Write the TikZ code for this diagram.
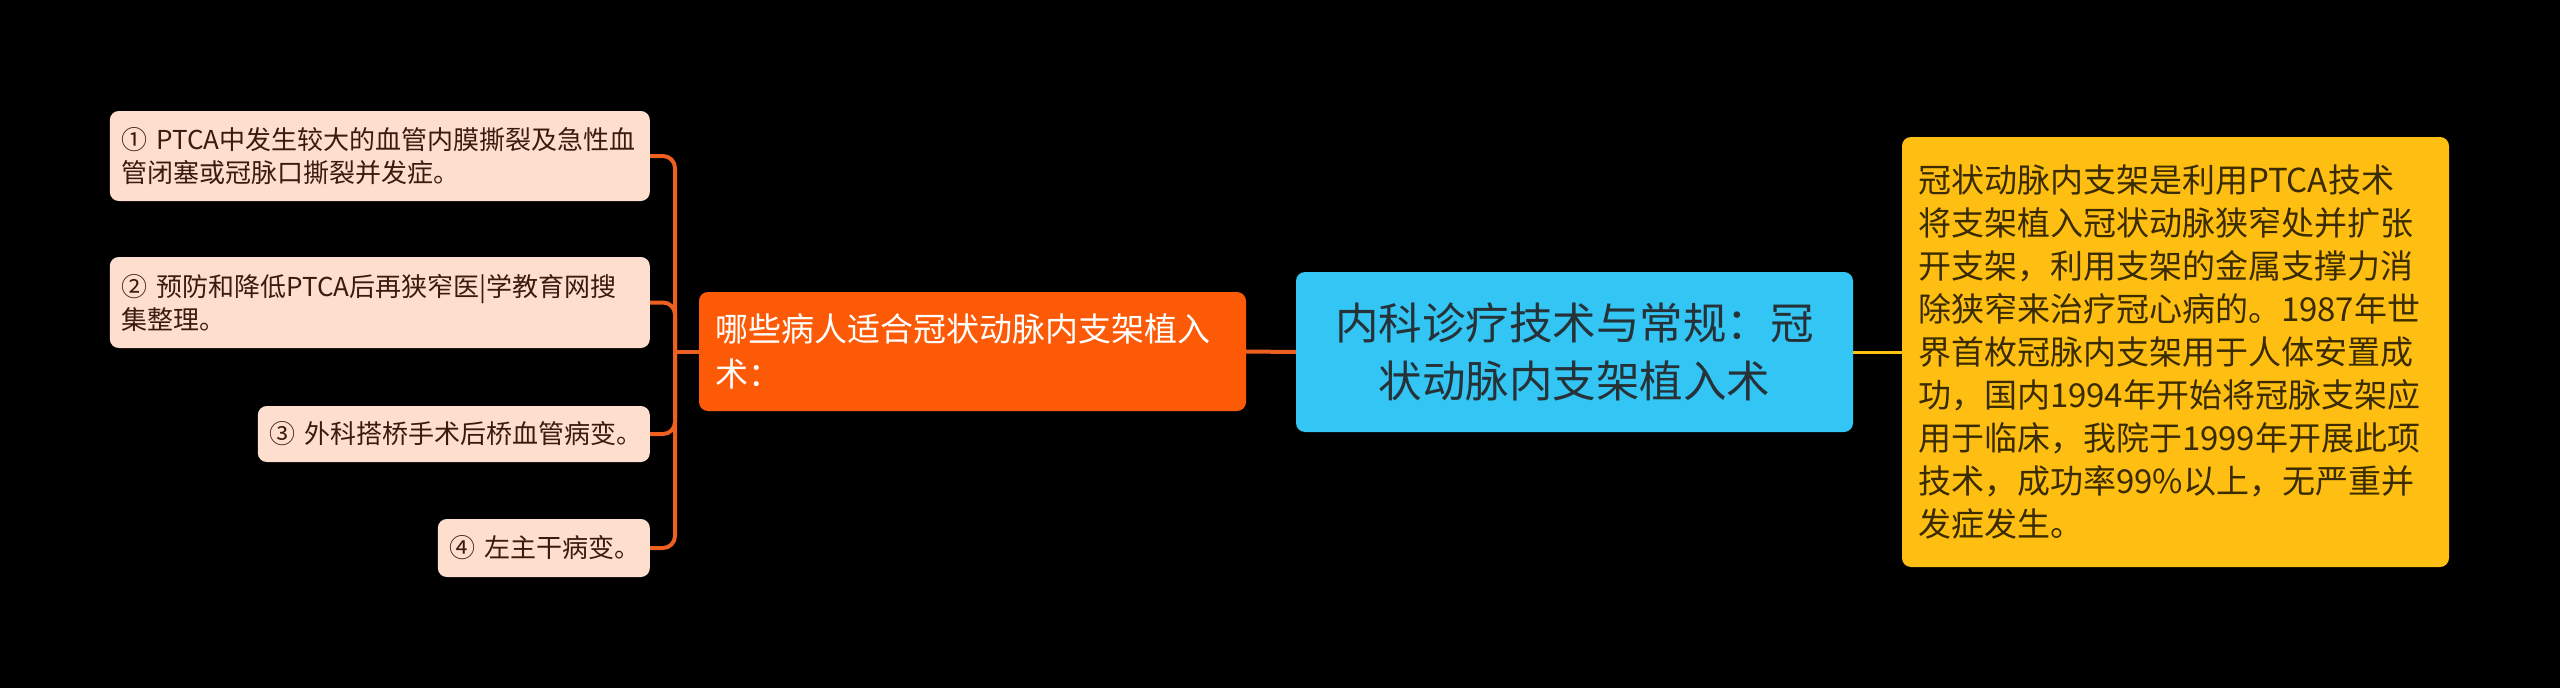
\documentclass[tikz,border=0pt]{standalone}
\usepackage{fontspec}
\setmainfont{Noto Sans CJK SC}
\definecolor{leaffill}{HTML}{FEDFCF}
\definecolor{leaftext}{HTML}{3A1C0E}
\definecolor{branch}{HTML}{EE6020}
\definecolor{askfill}{HTML}{FC5A06}
\definecolor{mainfill}{HTML}{33C5F3}
\definecolor{maintext}{HTML}{263238}
\definecolor{infofill}{HTML}{FFBF12}
\definecolor{infotext}{HTML}{3A2C00}
\definecolor{goldline}{HTML}{FFC20E}

\begin{document}
\begin{tikzpicture}[x=1pt,y=-1pt,
    leaf/.style={fill=leaffill, text=leaftext, rounded corners=9pt, anchor=east,
        inner xsep=12pt, inner ysep=0pt, align=left, font=\fontsize{26}{33}\selectfont},
    ask/.style={fill=askfill, text=white, rounded corners=9pt,
        inner xsep=16pt, inner ysep=0pt, align=left, font=\fontsize{33}{45}\selectfont},
    mainbox/.style={fill=mainfill, text=maintext, rounded corners=9pt,
        inner sep=0pt, align=center, font=\fontsize{43.5}{58}\selectfont},
    info/.style={fill=infofill, text=infotext, rounded corners=9pt,
        inner xsep=16pt, inner ysep=0pt, align=left, font=\fontsize{33}{43}\selectfont},
    link/.style={draw=branch, line width=4pt, rounded corners=12pt},
    goldlink/.style={draw=goldline, line width=3pt}]

    \fill[black] (0,0) rectangle (2560,688);

    \node[leaf, text width=516pt, minimum height=90pt] (p1) at (650,156) {①~PTCA中发生较大的血管内膜撕裂及急性血\\管闭塞或冠脉口撕裂并发症。};
    \node[leaf, text width=516pt, minimum height=91pt] (p2) at (650,302.5) {②~预防和降低PTCA后再狭窄医|学教育网搜\\集整理。};
    \node[leaf, text width=368pt, minimum height=56pt] (p3) at (650,434) {③~外科搭桥手术后桥血管病变。};
    \node[leaf, text width=188pt, minimum height=58pt] (p4) at (650,548) {④~左主干病变。};

    \node[ask, text width=515pt, minimum height=119pt] (who) at (972.5,351.5) {哪些病人适合冠状动脉内支架植入\\术：};
    \node[mainbox, minimum width=557pt, minimum height=160pt] (main) at (1574.5,352) {内科诊疗技术与常规：冠\\状动脉内支架植入术};
    \node[info, text width=515pt, minimum height=430pt] (about) at (2175.5,352) {冠状动脉内支架是利用PTCA技术\\将支架植入冠状动脉狭窄处并扩张\\开支架，利用支架的金属支撑力消\\除狭窄来治疗冠心病的。1987年世\\界首枚冠脉内支架用于人体安置成\\功，国内1994年开始将冠脉支架应\\用于临床，我院于1999年开展此项\\技术，成功率99\%以上，无严重并\\发症发生。};

    \coordinate (fork) at (675,351.5);
    \foreach \n in {p1,p2,p3,p4}
        \draw[link] (\n.east) -| (fork);
    \draw[link] (fork) -- (who.west);
    \draw[link] (who.east) -- (main.west);
    \draw[goldlink] (main.east) -- (about.west);
\end{tikzpicture}
\end{document}
